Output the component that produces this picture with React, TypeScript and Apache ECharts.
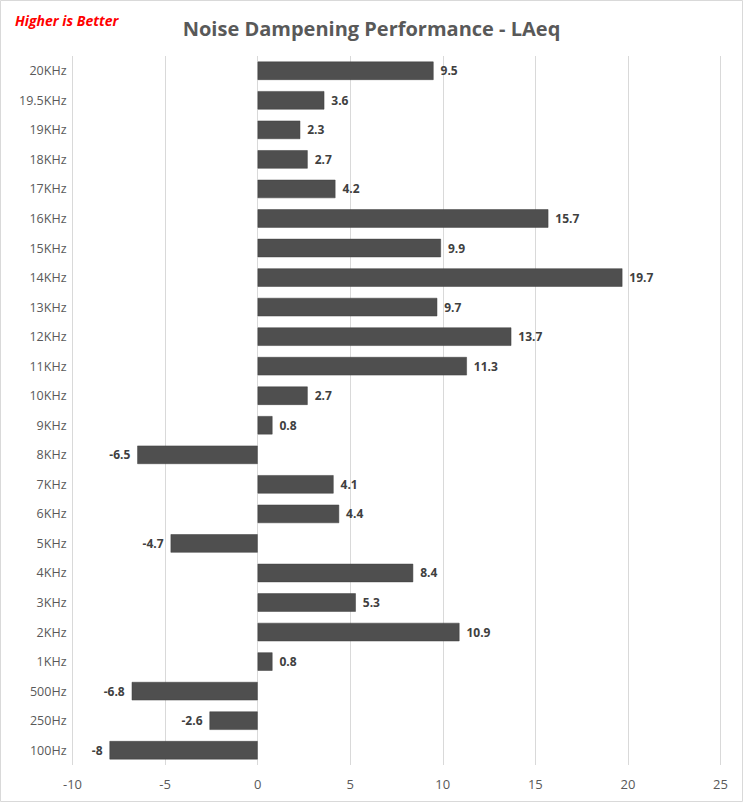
import React, { useEffect, useRef } from "react";
import * as echarts from "echarts";

const categories = [
  "20KHz", "19.5KHz", "19KHz", "18KHz", "17KHz", "16KHz", "15KHz", "14KHz",
  "13KHz", "12KHz", "11KHz", "10KHz", "9KHz", "8KHz", "7KHz", "6KHz",
  "5KHz", "4KHz", "3KHz", "2KHz", "1KHz", "500Hz", "250Hz", "100Hz",
];
const values = [
  9.5, 3.6, 2.3, 2.7, 4.2, 15.7, 9.9, 19.7,
  9.7, 13.7, 11.3, 2.7, 0.8, -6.5, 4.1, 4.4,
  -4.7, 8.4, 5.3, 10.9, 0.8, -6.8, -2.6, -8,
];
const xTicks = { min: -10, max: 25, interval: 5 };
const titleText = "Noise Dampening Performance - LAeq";
const noteText = "Higher is Better";

const FONT = "'Open Sans', sans-serif";

export default function App() {
  const ref = useRef<HTMLDivElement>(null);
  useEffect(() => {
    if (!ref.current) return;
    const chart = echarts.init(ref.current, undefined, { renderer: "svg" });
    chart.setOption({
      animation: false,
      backgroundColor: "#ffffff",
      textStyle: { fontFamily: FONT },
      title: {
        text: titleText,
        left: "center",
        top: 13,
        textStyle: { fontFamily: FONT, fontSize: 20, fontWeight: "bold", color: "#595959" },
      },
      graphic: [
        {
          type: "rect",
          shape: { x: 0.5, y: 0.5, width: 742, height: 801 },
          style: { fill: "none", stroke: "#d9d9d9", lineWidth: 1 },
          silent: true,
        },
        {
          type: "text",
          left: 15,
          top: 13,
          style: {
            text: noteText,
            fill: "#ff0000",
            font: `italic bold 14px ${FONT}`,
          },
        },
      ],
      grid: { left: 72.5, right: 22.5, top: 56, bottom: 37, containLabel: false },
      xAxis: {
        type: "value",
        min: xTicks.min,
        max: xTicks.max,
        interval: xTicks.interval,
        axisLine: { show: false },
        axisTick: { show: false },
        axisLabel: { color: "#595959", fontSize: 13, fontFamily: FONT, margin: 12 },
        splitLine: { show: true, lineStyle: { color: "#d9d9d9", width: 1 } },
      },
      yAxis: {
        type: "category",
        data: categories,
        inverse: true,
        axisLine: { show: false },
        axisTick: { show: false },
        axisLabel: { color: "#595959", fontSize: 12.5, fontFamily: FONT, margin: 6 },
        splitLine: { show: false },
      },
      series: [
        {
          type: "bar",
          data: values.map((v) => ({
            value: v,
            label: { position: v < 0 ? "left" : "right" },
          })),
          barCategoryGap: "38%",
          itemStyle: { color: "#4f4f4f", borderColor: "#3f3f3f", borderWidth: 0.5 },
          label: {
            show: true,
            distance: 7,
            color: "#404040",
            fontWeight: "bold",
            fontSize: 12,
            fontFamily: FONT,
          },
        },
      ],
    });
    return () => chart.dispose();
  }, []);
  return (
    <div
      ref={ref}
      style={{ position: "absolute", left: 0, top: 0, width: 743, height: 802 }}
    />
  );
}
